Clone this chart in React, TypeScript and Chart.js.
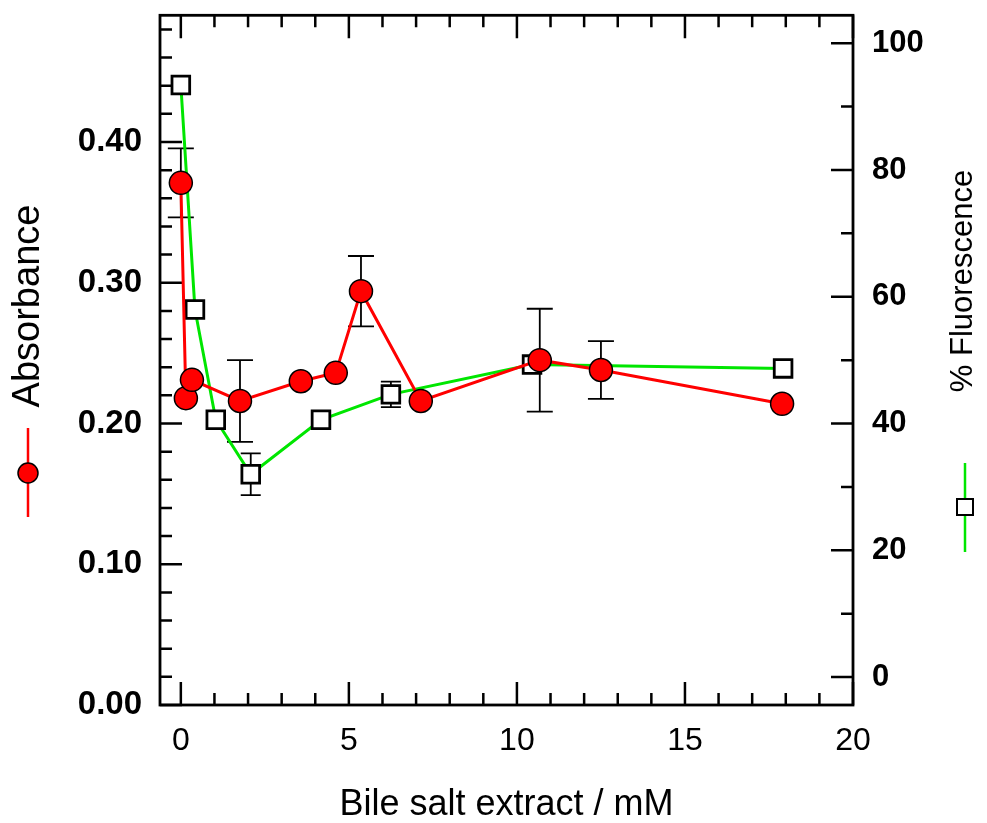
import React, { useEffect, useRef } from "react";
import { Chart, registerables } from "chart.js";

Chart.register(...registerables);

const FONT = "'Liberation Sans', Arial, Helvetica, sans-serif";

// Absorbance series (left axis)
const xAbs = [0, 0.15, 0.33, 1.76, 3.57, 4.61, 5.36, 7.14, 10.68, 12.5, 17.89];
const absorbance = [0.371, 0.218, 0.231, 0.216, 0.23, 0.236, 0.294, 0.216, 0.245, 0.238, 0.214];
const absErr = [0.0245, 0, 0, 0.029, 0, 0, 0.025, 0, 0.0365, 0.0205, 0];

// % Fluorescence series (right axis)
const xFluo = [0, 0.42, 1.04, 2.08, 4.17, 6.25, 10.45, 17.92];
const fluorescence = [93.4, 58.0, 40.6, 32.0, 40.6, 44.6, 49.3, 48.7];
const fluoErr = [0, 0, 0, 3.3, 0, 2.0, 0, 0];

// Axis labels
const xTitle = "Bile salt extract / mM";
const yTitle = "Absorbance";
const y2Title = "% Fluorescence";

const RED = "#ff0000";
const GREEN = "#00e600";

const framePlugin = {
  id: "frameTicks",
  beforeDatasetsDraw(chart: any) {
    const { ctx, chartArea: a, scales } = chart;
    const x = scales.x, y = scales.y, y2 = scales.y2;
    ctx.save();
    ctx.strokeStyle = "#000";
    ctx.lineWidth = 2.8;
    ctx.strokeRect(a.left, a.top, a.right - a.left, a.bottom - a.top);
    ctx.lineWidth = 2.5;
    ctx.beginPath();
    for (let v = 0; v <= 20; v++) {
      const px = x.getPixelForValue(v);
      const len = v % 5 === 0 ? 23 : 12;
      ctx.moveTo(px, a.bottom);
      ctx.lineTo(px, a.bottom - len);
      ctx.moveTo(px, a.top);
      ctx.lineTo(px, a.top + len);
    }
    for (let i = 0; i <= 24; i++) {
      const py = y.getPixelForValue(i * 0.02);
      const len = i % 5 === 0 ? 22 : 12;
      ctx.moveTo(a.left, py);
      ctx.lineTo(a.left + len, py);
    }
    for (let v = 0; v <= 100; v += 10) {
      const py = y2.getPixelForValue(v);
      const len = v % 20 === 0 ? 22 : 12;
      ctx.moveTo(a.right, py);
      ctx.lineTo(a.right - len, py);
    }
    ctx.stroke();

    // error bars
    ctx.lineWidth = 1.8;
    ctx.beginPath();
    const bar = (sx: any, sy: any, xv: number, yv: number, e: number, cap: number) => {
      if (!e) return;
      const px = sx.getPixelForValue(xv);
      const t = sy.getPixelForValue(yv + e);
      const b = sy.getPixelForValue(yv - e);
      ctx.moveTo(px, t);
      ctx.lineTo(px, b);
      ctx.moveTo(px - cap, t);
      ctx.lineTo(px + cap, t);
      ctx.moveTo(px - cap, b);
      ctx.lineTo(px + cap, b);
    };
    xAbs.forEach((xv, i) => bar(x, y, xv, absorbance[i], absErr[i], 13));
    xFluo.forEach((xv, i) => bar(x, y2, xv, fluorescence[i], fluoErr[i], 10));
    ctx.stroke();
    ctx.restore();
  },
  afterDraw(chart: any) {
    const { ctx } = chart;
    ctx.save();
    ctx.fillStyle = "#000";
    ctx.textAlign = "center";
    ctx.textBaseline = "middle";
    // left title
    ctx.save();
    ctx.translate(29, 306);
    ctx.rotate(-Math.PI / 2);
    ctx.font = `38px ${FONT}`;
    ctx.fillText(yTitle, 0, 0);
    ctx.restore();
    // left legend symbol
    ctx.strokeStyle = RED;
    ctx.lineWidth = 2.5;
    ctx.beginPath();
    ctx.moveTo(28, 428);
    ctx.lineTo(28, 517);
    ctx.stroke();
    ctx.beginPath();
    ctx.arc(28, 473, 10, 0, Math.PI * 2);
    ctx.fillStyle = RED;
    ctx.fill();
    ctx.strokeStyle = "#000";
    ctx.lineWidth = 1.5;
    ctx.stroke();
    // right title
    ctx.fillStyle = "#000";
    ctx.save();
    ctx.translate(963, 281);
    ctx.rotate(-Math.PI / 2);
    ctx.font = `31px ${FONT}`;
    ctx.fillText(y2Title, 0, 0);
    ctx.restore();
    // right legend symbol
    ctx.strokeStyle = GREEN;
    ctx.lineWidth = 2.5;
    ctx.beginPath();
    ctx.moveTo(965, 463);
    ctx.lineTo(965, 552);
    ctx.stroke();
    ctx.fillStyle = "#fff";
    ctx.fillRect(957, 499, 16, 16);
    ctx.strokeStyle = "#000";
    ctx.lineWidth = 2;
    ctx.strokeRect(957, 499, 16, 16);
    ctx.restore();
  },
};

const fixVertical = (w: number) => (s: any) => {
  s.width = w;
  s.paddingTop = 0;
  s.paddingBottom = 0;
};

export default function App() {
  const ref = useRef<HTMLCanvasElement | null>(null);
  useEffect(() => {
    if (!ref.current) return;
    const chart = new Chart(ref.current, {
      type: "line",
      data: {
        datasets: [
          {
            label: yTitle,
            data: xAbs.map((xv, i) => ({ x: xv, y: absorbance[i] })),
            yAxisID: "y",
            borderColor: RED,
            borderWidth: 3,
            pointStyle: "circle",
            pointRadius: 11.5,
            pointBackgroundColor: RED,
            pointBorderColor: "#000",
            pointBorderWidth: 1.5,
            tension: 0,
            fill: false,
          },
          {
            label: y2Title,
            data: xFluo.map((xv, i) => ({ x: xv, y: fluorescence[i] })),
            yAxisID: "y2",
            borderColor: GREEN,
            borderWidth: 3,
            pointStyle: "rect",
            pointRadius: 12.5,
            pointBackgroundColor: "#fff",
            pointBorderColor: "#000",
            pointBorderWidth: 2.8,
            tension: 0,
            fill: false,
          },
        ],
      },
      options: {
        responsive: false,
        animation: false,
        devicePixelRatio: 1,
        layout: { padding: { top: 14, left: 0, right: 0, bottom: 0 } },
        plugins: { legend: { display: false }, tooltip: { enabled: false } },
        scales: {
          x: {
            type: "linear",
            position: "bottom",
            min: -0.62,
            max: 20,
            grid: { display: false, drawTicks: false },
            border: { display: false },
            ticks: {
              stepSize: 5,
              includeBounds: false,
              padding: 17,
              maxRotation: 0,
              autoSkip: false,
              color: "#000",
              font: { family: FONT, size: 32 },
              callback: (v: any) => String(v),
            },
            title: {
              display: true,
              text: xTitle,
              color: "#000",
              padding: 0,
              font: { family: FONT, size: 36, lineHeight: 1 },
            },
            afterFit: (s: any) => {
              s.height = 118;
              s.paddingLeft = 0;
              s.paddingRight = 0;
            },
          },
          y: {
            type: "linear",
            position: "left",
            min: 0,
            max: 0.49,
            grid: { display: false, drawTicks: false },
            border: { display: false },
            ticks: {
              stepSize: 0.1,
              includeBounds: false,
              padding: 18,
              color: "#000",
              font: { family: FONT, size: 33, weight: "bold" },
              callback: (v: any) => Number(v).toFixed(2),
            },
            afterFit: fixVertical(160),
          },
          y2: {
            type: "linear",
            position: "right",
            min: -4.4,
            max: 104.4,
            grid: { display: false, drawTicks: false },
            border: { display: false },
            ticks: {
              stepSize: 20,
              includeBounds: false,
              padding: 19,
              color: "#000",
              font: { family: FONT, size: 31, weight: "bold" },
              callback: (v: any) => String(Math.round(Number(v))),
            },
            afterFit: fixVertical(134),
          },
        },
      },
      plugins: [framePlugin],
    } as any);
    return () => chart.destroy();
  }, []);
  return (
    <div style={{ position: "absolute", left: 0, top: 0, width: 987, height: 823, background: "#fff" }}>
      <canvas ref={ref} width={987} height={823} style={{ display: "block" }} />
    </div>
  );
}
